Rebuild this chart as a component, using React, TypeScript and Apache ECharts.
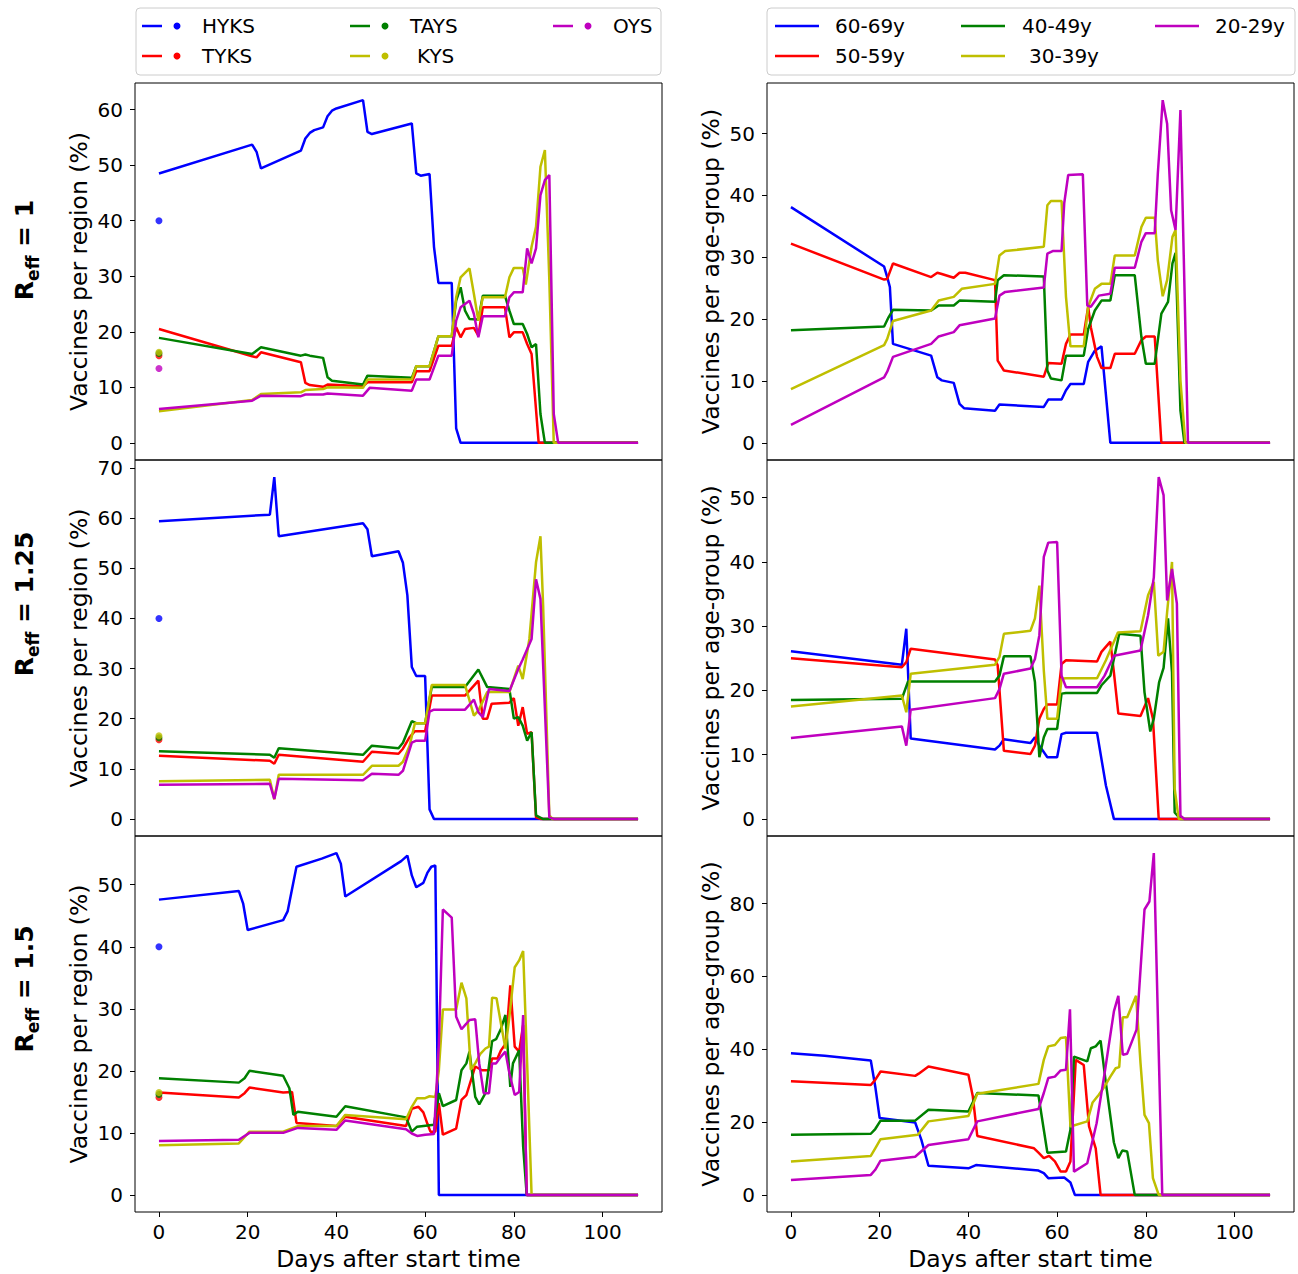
import React, { useEffect, useRef } from "react";
import * as echarts from "echarts";

// ---------- labels ----------
const regionNames = ["HYKS", "TYKS", "TAYS", "KYS", "OYS"];
const ageNames = ["60-69y", "50-59y", "40-49y", "30-39y", "20-29y"];
const colors = ["#0000ff", "#ff0000", "#008000", "#bfbf00", "#bf00bf"];
const rowLabels = ["1", "1.25", "1.5"];
const xTicks = [0, 20, 40, 60, 80, 100];
const xExtent = [0, 108];
const yTicksR1Left = [0, 10, 20, 30, 40, 50, 60];
const yTicksR1Right = [0, 10, 20, 30, 40, 50];
const yTicksR125Left = [0, 10, 20, 30, 40, 50, 60, 70];
const yTicksR125Right = [0, 10, 20, 30, 40, 50];
const yTicksR15Left = [0, 10, 20, 30, 40, 50];
const yTicksR15Right = [0, 20, 40, 60, 80];

// ---------- R_eff = 1, regions ----------
const r1_HYKS = [[0,48.5],[21,53.7],[22,52.4],[23,49.4],[32,52.6],[33,54.8],[34,55.8],[35,56.3],[37,56.8],[38,58.8],[39,59.8],[40,60.2],[46,61.7],[47,56.0],[48,55.6],[57,57.5],[58,48.5],[59,48.1],[61,48.4],[62,35.3],[63,28.8],[66,28.8],[67,2.6],[68,0],[108,0]];
const r1_TYKS = [[0,20.5],[21,15.6],[22,15.4],[23,16.3],[32,14.5],[33,10.8],[34,10.4],[37,10.1],[38,10.5],[46,10.2],[47,10.9],[57,10.9],[58,12.9],[61,12.9],[63,17.5],[66,17.5],[67,20.8],[68,19.0],[69,20.5],[71,20.7],[72,19.3],[73,24.4],[78,24.4],[79,19.0],[80,19.9],[82,19.9],[83,17.8],[84,16.0],[85.6,0],[108,0]];
const r1_TAYS = [[0,18.9],[21,16.0],[23,17.2],[32,15.7],[33,15.9],[34,15.7],[37,15.3],[38,11.8],[39,11.2],[46,10.5],[47,12.1],[57,11.7],[58,13.8],[61,13.8],[63,19.2],[66,19.2],[67,25.6],[68,28.0],[69,23.8],[70,22.3],[72,22.2],[73,26.5],[78,26.5],[79,23.8],[80,21.4],[82,21.4],[83,19.6],[84,17.2],[85,17.8],[86,5.2],[87,0],[108,0]];
const r1_KYS = [[0,5.7],[21,7.7],[23,8.8],[32,9.1],[33,9.5],[37,9.7],[38,10.0],[46,9.9],[47,11.4],[57,11.4],[58,13.8],[61,13.8],[63,19.2],[66,19.2],[67,26.2],[68,29.8],[70,31.4],[71,26.8],[72,22.0],[73,26.2],[78,26.2],[79,29.8],[80,31.5],[82,31.5],[82.7,28.5],[84,35.3],[85,38.9],[86,49.7],[87,52.7],[88,29.3],[89,0],[108,0]];
const r1_OYS = [[0,6.1],[21,7.6],[23,8.5],[32,8.4],[33,8.7],[37,8.7],[38,8.9],[46,8.5],[47.5,9.9],[57,9.4],[58,11.4],[61,11.4],[63,15.7],[66,15.7],[67,22.0],[68,24.4],[70,25.6],[71,23.2],[72,19.0],[73,22.8],[78,22.8],[79,26.2],[80,27.1],[82,27.1],[83,35.0],[84,32.3],[85,35.0],[86,44.6],[87,47.3],[88,48.2],[89,5.2],[90,0],[108,0]];
const r1_dots = [40, 15.7, 16.1, 16.3, 13.4];

// ---------- R_eff = 1, age groups ----------
const r1_A60 = [[0,38.1],[21,28.5],[21.7,26.8],[22.3,25.2],[23,16.0],[31.6,14.1],[33,10.6],[34,10.1],[36.7,9.7],[38,6.3],[39,5.6],[46,5.2],[47,6.2],[57,5.8],[58,7.0],[61,7.0],[62,8.5],[63,9.5],[66,9.5],[67,13.1],[68.5,14.9],[70,15.6],[72,0],[108,0]];
const r1_A50 = [[0,32.2],[21,26.4],[21.7,26.5],[23,29.0],[31.6,26.8],[33,27.5],[34,27.3],[36.7,26.7],[38,27.5],[39.3,27.5],[46,26.3],[46.6,13.3],[48,11.7],[57,10.7],[58,12.9],[61,12.8],[62,16.0],[63,17.5],[66,17.5],[67,22.0],[67.6,18.7],[69,13.9],[70,12.1],[72,12.1],[73,14.4],[77.5,14.4],[79,16.6],[80,17.2],[82,17.2],[83.5,0],[108,0]];
const r1_A40 = [[0,18.2],[21,18.8],[22,20.3],[23,21.5],[31.6,21.4],[33.3,22.2],[36.7,22.2],[38,23.0],[46,22.8],[46.6,26.3],[48,27.1],[57,26.9],[57.8,11.7],[58.6,10.4],[61,10.1],[62,14.1],[66,14.1],[67,18.4],[68.5,21.4],[70,23.0],[72,23.0],[73,27.1],[77.5,27.1],[79,17.1],[80,12.8],[82,12.8],[83.5,20.9],[85,22.8],[86,29.0],[86.7,30.7],[87.8,5.2],[88.7,0],[108,0]];
const r1_A30 = [[0,8.7],[21,15.8],[21.7,16.8],[23,19.7],[31.6,21.4],[33.3,23.0],[36.7,23.6],[38.5,24.9],[46,25.7],[47,30.3],[48.3,31.0],[57,31.7],[57.8,38.4],[58.6,39.1],[61,39.1],[62,23.6],[63,15.6],[66,15.6],[67,22.0],[68.5,24.9],[70,25.7],[72,25.7],[73,30.3],[77.5,30.3],[79,34.9],[80,36.4],[82,36.4],[82.7,29.5],[83.8,23.7],[84.8,26.3],[86,33.3],[86.7,34.4],[87.8,10.1],[88.9,0],[108,0]];
const r1_A20 = [[0,2.9],[21,10.6],[21.7,11.5],[23,13.9],[31.6,16.0],[33.3,17.2],[36.7,17.9],[38,19.0],[46,20.1],[47,23.8],[48.3,24.4],[57,25.1],[57.8,30.6],[59,31.0],[61,31.0],[61.6,38.7],[62.5,43.3],[65.8,43.4],[66.8,22.2],[67.6,22.0],[69.4,23.8],[72,24.1],[73,28.3],[77.5,28.3],[79,32.5],[80,33.9],[82,33.9],[82.7,43.5],[83.8,55.4],[84.8,51.6],[85.7,37.6],[86.7,34.4],[87.8,53.8],[89.5,0],[108,0]];

// ---------- R_eff = 1.25, regions ----------
const r125_HYKS = [[0,59.4],[25,60.7],[26,68.2],[27,56.4],[46,59.0],[47,57.8],[48,52.4],[54,53.4],[55,51.1],[56,44.6],[57,30.3],[58,28.5],[60,28.5],[61,1.9],[62,0],[108,0]];
const r125_TYKS = [[0,12.6],[25,11.6],[26,11.0],[27,12.8],[46,11.4],[48,13.4],[54,13.0],[55,14.0],[56.5,16.3],[57.7,17.5],[60,17.5],[61.5,24.6],[69,24.6],[72,27.6],[73,20.0],[74,20.0],[75,23.0],[79,23.2],[80,24.1],[81,18.6],[82,22.3],[83,17.0],[84,17.3],[85,0.3],[86,0],[108,0]];
const r125_TAYS = [[0,13.5],[25,12.8],[26,12.2],[27,14.1],[46,12.8],[48,14.6],[54,14.1],[55,15.2],[57,19.5],[58,19.1],[60,19.1],[61.5,26.3],[69,26.3],[72,29.8],[74,26.3],[79,25.9],[80,20.0],[81,20.3],[82,18.6],[83,15.6],[84,17.3],[85,0.7],[86.5,0],[108,0]];
const r125_KYS = [[0,7.5],[25,7.8],[26,3.9],[27,8.8],[46,8.8],[48,10.6],[54,10.6],[55,11.4],[56.5,14.6],[57.7,19.1],[60,19.1],[61.5,26.7],[69,26.7],[71,20.6],[72,21.6],[74,25.3],[79,25.3],[81,30.6],[82,27.9],[83.5,35.9],[85,51.2],[86,56.4],[86.6,42.6],[88,0.7],[88.7,0],[108,0]];
const r125_OYS = [[0,6.8],[25,7.0],[26,4.0],[27,8.0],[46,7.7],[48,9.0],[54,8.8],[55,9.6],[57,15.2],[58,15.6],[60,15.6],[61,21.4],[62,21.8],[69,21.8],[71,23.8],[72,21.3],[73,20.3],[74.4,25.9],[79,25.5],[81,29.9],[82,31.8],[84,35.9],[85,47.8],[86,43.9],[88,0.3],[89,0],[108,0]];
const r125_dots = [40, 15.8, 16.2, 16.6];

// ---------- R_eff = 1.25, age groups ----------
const r125_A60 = [[0,26.1],[25,24.0],[26,29.6],[27,12.5],[46,10.8],[47,11.4],[48,12.4],[54,11.8],[55,12.7],[56,11.4],[57.8,9.6],[60,9.6],[61,13.2],[62,13.4],[69,13.4],[71,5.2],[72.8,0],[108,0]];
const r125_A50 = [[0,25.0],[25,23.6],[26,24.4],[27,26.5],[46,24.8],[46.6,23.9],[48,10.6],[54,10.1],[55,11.4],[56,15.6],[57,17.1],[57.8,17.8],[60,17.8],[61,24.1],[62,24.7],[69,24.5],[70,26.0],[72,27.6],[72.8,22.8],[73.8,16.4],[78.8,16.0],[80.5,18.8],[81.6,15.6],[82.9,0],[108,0]];
const r125_A40 = [[0,18.5],[25,18.7],[26.4,21.4],[46,21.4],[47,22.3],[48,25.3],[54,25.3],[55,21.3],[56,9.6],[57,12.7],[57.8,14.0],[60,14.0],[61,19.5],[62,19.6],[69,19.6],[70,20.8],[72,22.3],[74,28.8],[78.8,28.5],[79.7,19.7],[81,13.6],[81.8,15.6],[83,21.3],[84,23.5],[85,31.2],[85.9,22.8],[86.5,1.0],[87.8,0],[108,0]];
const r125_A30 = [[0,17.5],[25,19.2],[26,16.6],[27,22.6],[46,24.0],[47,25.2],[48,28.8],[54,29.3],[55,31.2],[56,36.3],[57,23.1],[57.8,15.6],[60,15.6],[61,21.8],[62,21.9],[69,21.9],[71,24.7],[73.7,29.0],[78.8,29.2],[80.5,34.8],[81.8,36.9],[82.8,25.4],[84,26.0],[84.8,32.2],[85.9,40.0],[86.5,4.7],[87.4,0],[108,0]];
const r125_A20 = [[0,12.6],[25,14.4],[26,11.4],[27,17.0],[46,18.8],[47,20.2],[48,22.6],[54,23.4],[55,24.9],[56,28.6],[57,40.8],[58,43.0],[60,43.1],[61,22.3],[62,20.5],[69,20.5],[70.7,22.3],[72.8,25.4],[78.8,26.2],[80.5,31.7],[81.8,37.6],[82.9,53.2],[84,50.4],[84.8,34.0],[85.9,38.9],[87,33.5],[87.8,0.5],[88.7,0],[108,0]];

// ---------- R_eff = 1.5, regions ----------
const r15_HYKS = [[0,47.6],[18,49.0],[19,46.9],[20,42.7],[28,44.3],[29,45.7],[31,52.9],[36.7,54.2],[40,55.1],[41,53.4],[42,48.1],[54.6,53.8],[56,54.7],[57,51.5],[58,49.6],[59.6,50.3],[60.5,51.9],[61.4,52.9],[62.3,53.1],[63.1,0],[108,0]];
const r15_TYKS = [[0,16.5],[18,15.7],[19.3,16.4],[20.4,17.3],[28,16.5],[30,16.6],[31,11.6],[40,11.1],[42,12.6],[55.7,11.1],[57,13.9],[58.5,14.2],[59.6,13.3],[60.5,11.5],[61.2,10.2],[62.3,10.2],[63.1,14.8],[64,9.7],[67,10.7],[68.2,15.3],[69.3,16.1],[71.3,20.7],[72.8,20.1],[74.4,20.1],[75.1,22.0],[76.3,22.0],[77.1,23.3],[78.2,24.4],[79.2,33.8],[80.2,23.9],[81.2,23.1],[82.1,27.4],[82.9,0],[108,0]];
const r15_TAYS = [[0,18.8],[18,18.1],[19.3,18.8],[20.4,20.0],[28,19.2],[29.4,17.2],[30.3,12.9],[31.3,13.4],[40,12.6],[42,14.3],[55.7,12.5],[57,10.2],[58.2,11.0],[62,11.3],[63.1,16.4],[64,14.3],[67,15.3],[68.2,20.1],[69.3,21.2],[70,23.1],[71.3,15.8],[72.2,14.6],[73.6,16.4],[75.1,24.8],[76,25.1],[77.1,26.8],[78.1,29.0],[79.2,17.4],[79.8,21.2],[81.2,23.3],[82.1,7.8],[82.9,0],[108,0]];
const r15_KYS = [[0,8.0],[18,8.3],[20.4,10.2],[28,10.2],[31.3,11.1],[40,11.1],[42,12.9],[55.7,12.2],[57,14.2],[58.2,15.6],[60,15.6],[61,15.9],[62.3,15.8],[63.1,20.1],[64,29.9],[67,29.9],[68.2,34.2],[69.3,31.7],[70.3,20.2],[71.3,21.2],[72.4,22.7],[73.6,23.6],[74.4,23.9],[75.1,31.8],[76.1,31.7],[77.1,27.6],[78.1,23.6],[79,28.7],[80.2,36.7],[81.2,37.8],[82.1,39.3],[83,21.2],[84,0],[108,0]];
const r15_OYS = [[0,8.7],[18,8.9],[20.4,10.0],[28,10.0],[31.3,10.8],[40,10.5],[42,12.0],[55.7,10.6],[57,9.9],[58.2,9.5],[60,9.7],[62,9.8],[63.1,24.4],[64,46.0],[66,44.7],[67,28.7],[68.2,26.7],[69.3,27.6],[70,28.2],[71.3,28.3],[72.2,21.2],[73.2,16.4],[74.4,16.4],[75.1,21.2],[76,21.2],[77.1,22.3],[78.1,23.1],[79,19.6],[80.2,16.1],[81.2,16.6],[82.1,29.0],[82.9,0],[108,0]];
const r15_dots = [40, 15.7, 16.2, 16.5];

// ---------- R_eff = 1.5, age groups ----------
const r15_A60 = [[0,38.9],[7.6,38.2],[18,36.9],[19,29.8],[20,21.1],[28,19.9],[29.4,15.1],[31,8.0],[40,7.3],[41.7,8.2],[55.8,6.7],[57,6.0],[58,4.6],[61.6,4.8],[63,3.4],[64,0],[108,0]];
const r15_A50 = [[0,31.2],[18,30.2],[19,31.6],[20.2,33.9],[28,32.7],[28.8,33.3],[31,35.3],[40,33.0],[41,27.0],[42,16.2],[54.8,12.8],[55.8,11.6],[57,10.1],[58.2,10.7],[59.5,9.2],[60.8,6.4],[62,6.4],[63,9.2],[64.2,37.1],[66,35.7],[67.2,18.8],[68.7,12.8],[69.8,0],[108,0]];
const r15_A40 = [[0,16.5],[18,16.8],[19,18.1],[20.2,20.4],[28,20.4],[31,23.4],[40,22.9],[42,28.0],[55.8,27.3],[57,17.9],[57.8,11.6],[62,11.9],[63,17.9],[63.8,38.0],[66.8,36.7],[67.6,40.3],[68.7,40.8],[69.8,42.4],[70.9,31.6],[72.8,14.4],[73.8,10.1],[74.7,12.2],[75.8,11.9],[77.5,0],[108,0]];
const r15_A30 = [[0,9.2],[18,10.7],[19,12.8],[20.2,15.3],[28.6,16.5],[31,20.2],[40,21.7],[42,27.8],[55.8,30.5],[57,37.1],[58,40.8],[59.5,41.2],[60.8,43.1],[62,43.3],[63,18.8],[66.8,20.2],[68,25.4],[69.4,27.5],[70.7,29.8],[72,32.5],[73.2,34.8],[74,35.1],[74.8,48.8],[75.8,48.8],[77.8,54.7],[78.8,36.2],[79.7,22.0],[80.7,19.7],[81.6,4.6],[82.9,0],[108,0]];
const r15_A20 = [[0,4.1],[18,5.5],[19,6.9],[20.2,9.4],[28,10.5],[31,13.7],[40,15.3],[42,20.2],[55.8,23.6],[57,28.0],[58,32.1],[59.5,32.5],[60.8,34.2],[62,34.4],[62.9,51.0],[63.8,6.4],[66.8,8.7],[68.9,19.7],[70.7,33.4],[72.8,50.4],[73.8,54.7],[74.8,38.5],[75.8,38.8],[77.9,45.4],[79.7,78.4],[80.8,80.6],[81.8,93.9],[83.7,0],[108,0]];

// ---------- panels (data references only) ----------
const panels = [
  { lines: [r1_HYKS, r1_TYKS, r1_TAYS, r1_KYS, r1_OYS], names: regionNames, dots: r1_dots, ticks: yTicksR1Left },
  { lines: [r1_A60, r1_A50, r1_A40, r1_A30, r1_A20], names: ageNames, dots: [], ticks: yTicksR1Right },
  { lines: [r125_HYKS, r125_TYKS, r125_TAYS, r125_KYS, r125_OYS], names: regionNames, dots: r125_dots, ticks: yTicksR125Left },
  { lines: [r125_A60, r125_A50, r125_A40, r125_A30, r125_A20], names: ageNames, dots: [], ticks: yTicksR125Right },
  { lines: [r15_HYKS, r15_TYKS, r15_TAYS, r15_KYS, r15_OYS], names: regionNames, dots: r15_dots, ticks: yTicksR15Left },
  { lines: [r15_A60, r15_A50, r15_A40, r15_A30, r15_A20], names: ageNames, dots: [], ticks: yTicksR15Right },
];

const W = 1298;
const H = 1274;
const FONT = "DejaVu Sans";
const gridLeft = [135, 767];
const gridTop = [83, 460, 836];
const gridHeight = [377, 376, 376];
const gridWidth = 527;

function padded(lo: number, hi: number) {
  const p = (hi - lo) * 0.05;
  return [lo - p, hi + p];
}

export default function App() {
  const ref = useRef<HTMLDivElement>(null);
  useEffect(() => {
    const chart = echarts.init(ref.current!, null, { renderer: "svg" });
    const grids: any[] = [];
    const xAxes: any[] = [];
    const yAxes: any[] = [];
    const series: any[] = [];
    const [xmin, xmax] = padded(xExtent[0], xExtent[1]);

    panels.forEach((p, i) => {
      const row = Math.floor(i / 2);
      const col = i % 2;
      grids.push({
        left: gridLeft[col], top: gridTop[row], width: gridWidth, height: gridHeight[row],
        show: true, borderColor: "#000", borderWidth: 1, backgroundColor: "transparent",
        outerBoundsMode: "none",
      });
      let lo = 0, hi = 0;
      p.lines.forEach((d) => d.forEach((pt) => { lo = Math.min(lo, pt[1]); hi = Math.max(hi, pt[1]); }));
      p.dots.forEach((v) => { hi = Math.max(hi, v); });
      const [ymin, ymax] = padded(lo, hi);
      const bottom = row === 2;
      xAxes.push({
        type: "value", gridIndex: i, min: xmin, max: xmax, show: bottom, position: "bottom",
        axisLine: { show: false, onZero: false },
        splitLine: { show: false },
        axisTick: { show: bottom, length: 5, lineStyle: { color: "#000", width: 1 }, customValues: xTicks },
        axisLabel: { show: bottom, customValues: xTicks, fontSize: 20, color: "#000", fontFamily: FONT, margin: 10 },
        name: bottom ? "Days after start time" : "",
        nameLocation: "middle", nameGap: 35,
        nameTextStyle: { fontSize: 23.5, color: "#000", fontFamily: FONT },
      });
      yAxes.push({
        type: "value", gridIndex: i, min: ymin, max: ymax, position: "left",
        axisLine: { show: false, onZero: false },
        splitLine: { show: false },
        axisTick: { show: true, length: 5, lineStyle: { color: "#000", width: 1 }, customValues: p.ticks },
        axisLabel: { show: true, customValues: p.ticks, fontSize: 20, color: "#000", fontFamily: FONT, margin: 12 },
        name: col === 0 ? "Vaccines per region (%)" : "Vaccines per age-group (%)",
        nameLocation: "middle", nameGap: 44, nameRotate: 90,
        nameTextStyle: { fontSize: 23.5, color: "#000", fontFamily: FONT },
      });
      p.lines.forEach((d, k) => {
        series.push({
          type: "line", name: p.names[k], xAxisIndex: i, yAxisIndex: i, data: d,
          showSymbol: false, symbol: "none", silent: true,
          lineStyle: { width: 2.5, color: colors[k] }, itemStyle: { color: colors[k] },
        });
      });
      p.dots.forEach((v, k) => {
        series.push({
          type: "scatter", name: p.names[k], xAxisIndex: i, yAxisIndex: i, data: [[0, v]],
          symbolSize: 7, silent: true, itemStyle: { color: colors[k] }, z: 3,
        });
      });
    });

    // legends (drawn as graphic elements to match matplotlib layout)
    const g: any[] = [];
    g.push({ type: "rect", shape: { x: 136, y: 8, width: 525, height: 67, r: 4 }, style: { fill: "#fff", stroke: "#cccccc", lineWidth: 1 } });
    g.push({ type: "rect", shape: { x: 767, y: 8, width: 528, height: 67, r: 4 }, style: { fill: "#fff", stroke: "#cccccc", lineWidth: 1 } });
    const rowsY = [26, 56];
    const leftCols = [{ l: 142, t: 202 }, { l: 350, t: 410 }, { l: 553, t: 613 }];
    const rightCols = [{ l: 775, t: 835 }, { l: 961, t: 1022 }, { l: 1155, t: 1215 }];
    const colOf = [0, 0, 1, 1, 2];
    const rowOf = [0, 1, 0, 1, 0];
    const textShift = [0, 0, 0, 7, 0];
    for (let k = 0; k < 5; k++) {
      const c = leftCols[colOf[k]];
      const y = rowsY[rowOf[k]];
      g.push({ type: "line", shape: { x1: c.l, y1: y, x2: c.l + 20, y2: y }, style: { stroke: colors[k], lineWidth: 2.5 } });
      g.push({ type: "circle", shape: { cx: c.l + 35, cy: y, r: 3.5 }, style: { fill: colors[k] } });
      g.push({ type: "text", x: c.t + textShift[k], y, style: { text: regionNames[k], fontSize: 20, fontFamily: FONT, fill: "#000", align: "left", verticalAlign: "middle" } });
      const r = rightCols[colOf[k]];
      g.push({ type: "line", shape: { x1: r.l, y1: y, x2: r.l + 44, y2: y }, style: { stroke: colors[k], lineWidth: 2.5 } });
      g.push({ type: "text", x: r.t + textShift[k], y, style: { text: ageNames[k], fontSize: 20, fontFamily: FONT, fill: "#000", align: "left", verticalAlign: "middle" } });
    }
    const rowCenters = [250, 604, 989];
    rowLabels.forEach((lab, i) => {
      g.push({
        type: "text", x: 24, y: rowCenters[i], rotation: Math.PI / 2,
        style: {
          text: "{b|R}{s|eff}{b| = " + lab + "}",
          align: "center", verticalAlign: "middle", fill: "#000",
          rich: {
            b: { fontSize: 25, fontWeight: "bold", fontFamily: FONT, lineHeight: 34, fill: "#000" },
            s: { fontSize: 17, fontWeight: "bold", fontFamily: FONT, lineHeight: 20, verticalAlign: "bottom", fill: "#000" },
          },
        },
      });
    });

    chart.setOption({
      animation: false,
      backgroundColor: "#fff",
      grid: grids,
      xAxis: xAxes,
      yAxis: yAxes,
      series,
      graphic: { elements: g },
    });
    return () => chart.dispose();
  }, []);
  return <div ref={ref} style={{ position: "absolute", left: 0, top: 0, width: W, height: H }} />;
}
